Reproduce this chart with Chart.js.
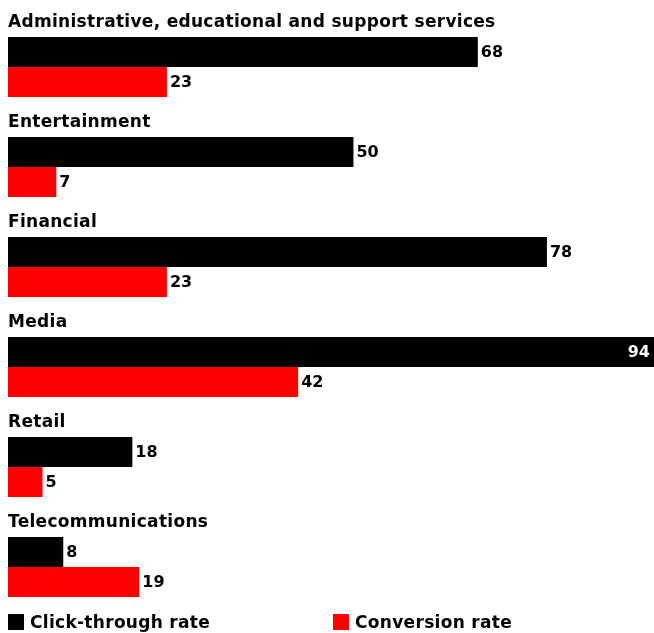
<!DOCTYPE html>
<html>
<head>
<meta charset="utf-8">
<script src="https://cdn.jsdelivr.net/npm/chart.js@4"></script>
<style>
  body { margin: 0; background: #fff; }
  #wrap { position: relative; width: 654px; height: 633px; }
  #legend { position: absolute; left: 8px; top: 612px; display: flex; font: bold 17px "DejaVu Sans", sans-serif; letter-spacing: 0.3px; color: #000; }
  #legend span.item { display: flex; align-items: center; }
  #legend span.box { display: inline-block; width: 16px; height: 16px; margin-right: 6px; }
</style>
</head>
<body>
<div id="wrap">
  <canvas id="chart" width="654" height="633"></canvas>
  <div id="legend"></div>
</div>
<script>
const categories = ['Administrative, educational and support services', 'Entertainment', 'Financial', 'Media', 'Retail', 'Telecommunications'];
const clickThrough = [68, 50, 78, 94, 18, 8];
const conversion = [23, 7, 23, 42, 5, 19];
const seriesNames = ['Click-through rate', 'Conversion rate'];
const seriesColors = ['#000000', '#ff0000'];

// draws the category titles above each group and the value labels at the bar ends
const labelPlugin = {
    id: 'labelPlugin',
    afterDatasetsDraw(chart) {
        const ctx = chart.ctx;
        const area = chart.chartArea;
        ctx.save();
        ctx.textBaseline = 'middle';

        // category titles sit in the empty first slot of each group
        const spacer = chart.getDatasetMeta(0);
        ctx.font = 'bold 17px "DejaVu Sans", sans-serif';
        ctx.letterSpacing = '0.3px';
        ctx.fillStyle = '#000';
        ctx.textAlign = 'left';
        spacer.data.forEach((bar, i) => {
            ctx.fillText(categories[i], area.left, bar.y + 1);
        });

        ctx.font = 'bold 16px "DejaVu Sans", sans-serif';
        ctx.letterSpacing = '0px';
        [1, 2].forEach(d => {
            chart.getDatasetMeta(d).data.forEach((bar, j) => {
                const v = chart.data.datasets[d].data[j];
                if (bar.x + 30 > area.right) {
                    ctx.fillStyle = '#fff';
                    ctx.textAlign = 'right';
                    ctx.fillText(v, area.right - 4, bar.y + 1);
                } else {
                    ctx.fillStyle = '#000';
                    ctx.textAlign = 'left';
                    ctx.fillText(v, bar.x + 3, bar.y + 1);
                }
            });
        });
        ctx.restore();
    }
};

new Chart(document.getElementById('chart').getContext('2d'), {
    type: 'bar',
    data: {
        labels: categories,
        datasets: [
            { label: '', data: categories.map(() => 0), backgroundColor: 'rgba(0,0,0,0)' },
            { label: seriesNames[0], data: clickThrough, backgroundColor: seriesColors[0] },
            { label: seriesNames[1], data: conversion, backgroundColor: seriesColors[1] }
        ]
    },
    options: {
        indexAxis: 'y',
        responsive: false,
        animation: false,
        datasets: { bar: { categoryPercentage: 0.9, barPercentage: 1 } },
        layout: { padding: { left: 8, right: 0, top: 2, bottom: 31 } },
        scales: {
            x: { display: false, min: 0, max: 93.5 },
            y: { display: false }
        },
        plugins: {
            legend: { display: false },
            tooltip: { enabled: false }
        }
    },
    plugins: [labelPlugin]
});

// legend below the chart
const legend = document.getElementById('legend');
seriesNames.forEach((name, i) => {
    const item = document.createElement('span');
    item.className = 'item';
    item.style.marginRight = i === 0 ? '123px' : '0';
    item.innerHTML = '<span class="box" style="background:' + seriesColors[i] + '"></span>' + name;
    legend.appendChild(item);
});
</script>
</body>
</html>
